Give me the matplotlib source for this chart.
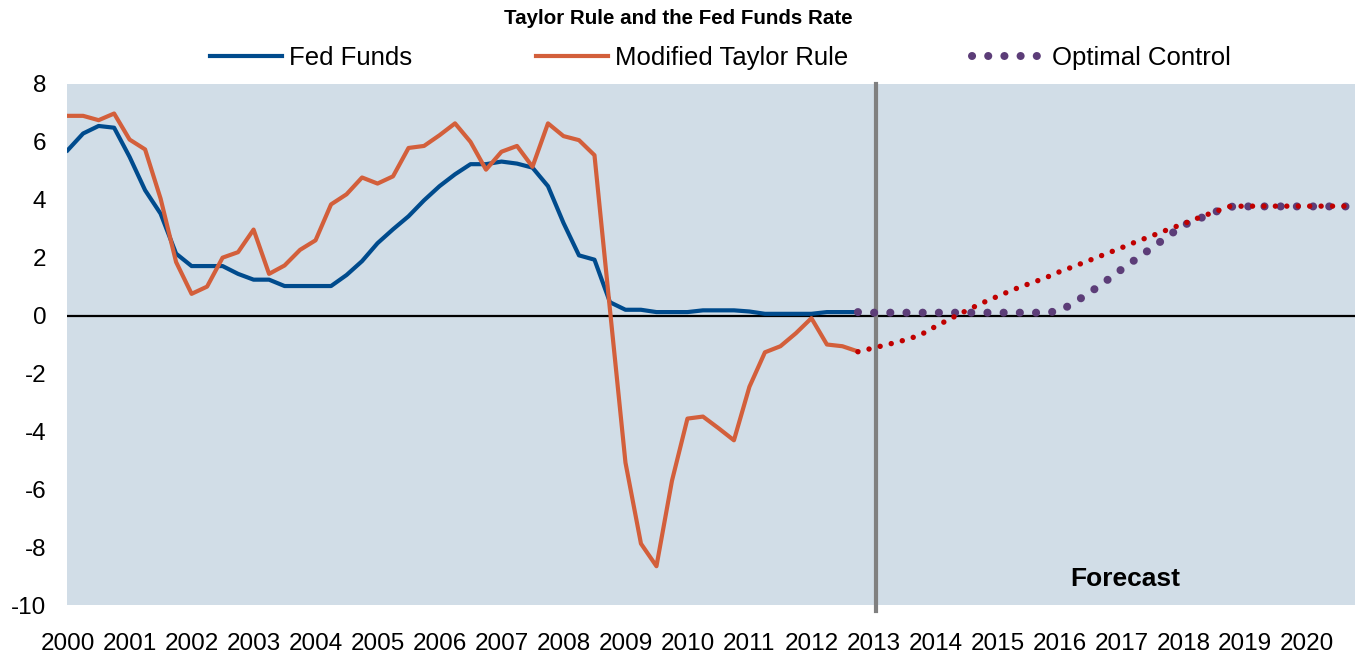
import numpy as np
import matplotlib.pyplot as plt

# Quarterly data, 2000Q1 onwards
fed_funds = [5.71, 6.29, 6.55, 6.49, 5.48, 4.33, 3.52, 2.14, 1.71, 1.71, 1.71, 1.44,
             1.24, 1.24, 1.02, 1.02, 1.02, 1.02, 1.40, 1.88, 2.50, 2.98, 3.43, 3.98,
             4.47, 4.88, 5.23, 5.23, 5.32, 5.25, 5.11, 4.47, 3.20, 2.08, 1.93, 0.46,
             0.20, 0.20, 0.12, 0.12, 0.12, 0.18, 0.18, 0.18, 0.14, 0.06, 0.06, 0.06,
             0.06, 0.12, 0.12, 0.12]
taylor_rule = [6.90, 6.90, 6.75, 6.98, 6.08, 5.74, 4.04, 1.85, 0.75, 1.00, 2.00, 2.19,
               2.97, 1.44, 1.73, 2.27, 2.60, 3.84, 4.19, 4.77, 4.56, 4.81, 5.79, 5.86,
               6.23, 6.64, 6.00, 5.04, 5.66, 5.86, 5.14, 6.64, 6.20, 6.06, 5.54, 0.20,
               -5.08, -7.88, -8.66, -5.71, -3.56, -3.49, -3.89, -4.31, -2.46, -1.27, -1.06, -0.61,
               -0.09, -1.00, -1.06, -1.24]
# Forecasts start at 2012Q4
taylor_forecast = [-1.25, -1.12, -0.99, -0.85, -0.68, -0.38, -0.10, 0.17, 0.43, 0.66, 0.89,
                   1.09, 1.28, 1.51, 1.71, 1.92, 2.13, 2.34, 2.56, 2.76, 2.97, 3.17, 3.38,
                   3.58, 3.77, 3.78, 3.78, 3.78, 3.78, 3.78, 3.78, 3.78, 3.78]
optimal_control = [0.12, 0.10, 0.10, 0.10, 0.10, 0.10, 0.10, 0.10, 0.10, 0.10, 0.10,
                   0.10, 0.10, 0.15, 0.46, 0.81, 1.19, 1.59, 1.97, 2.35, 2.74, 3.12, 3.34,
                   3.57, 3.76, 3.77, 3.77, 3.77, 3.77, 3.77, 3.77, 3.77, 3.77]
years = list(range(2000, 2021))
y_ticks = list(range(-10, 9, 2))
forecast_line = 2013.05

t_hist = 2000 + np.arange(len(fed_funds)) / 4
t_fc = 2000 + (len(fed_funds) - 1 + np.arange(len(optimal_control))) / 4

plt.rcParams['font.family'] = ['Liberation Sans', 'DejaVu Sans']
plt.rcParams['axes.unicode_minus'] = False

fig = plt.figure(figsize=(13.57, 6.58), dpi=100)
ax = fig.add_axes([67 / 1357, 53 / 658, 1288 / 1357, 521 / 658])
ax.set_facecolor('#d1dde7')

ax.axhline(0, color='black', lw=1.6, zorder=2)
ax.axvline(forecast_line, color='#808080', lw=3, zorder=2, ymin=-0.012, clip_on=False)

ax.plot(t_hist, fed_funds, color='#004b8d', lw=3, label='Fed Funds', zorder=3)
ax.plot(t_hist, taylor_rule, color='#d35f3b', lw=3, label='Modified Taylor Rule', zorder=3)
ax.plot(t_fc, taylor_forecast, color='#c00000', lw=3.9, linestyle=(0, (0.01, 2.1)),
        dash_capstyle='round', zorder=4)
ax.plot(t_fc, optimal_control, color='#5c3d78', lw=5.8, linestyle=(0, (0.01, 2.0)),
        dash_capstyle='round', label='Optimal Control', zorder=3)

ax.set_xlim(1999.99, 2020.77)
ax.set_ylim(-10, 8)
ax.set_xticks(years)
ax.set_xticklabels([str(y) for y in years])
ax.set_yticks(y_ticks)
ax.tick_params(axis='both', length=0, labelsize=17.5)
ax.tick_params(axis='x', pad=20)
ax.tick_params(axis='y', pad=15)
for s in ax.spines.values():
    s.set_visible(False)

ax.text(2017.07, -9.1, 'Forecast', fontsize=19, fontweight='bold',
        ha='center', va='center')

fig.text(0.5, 1 - 19 / 658, 'Taylor Rule and the Fed Funds Rate', fontsize=14.8,
         fontweight='bold', ha='center', va='center')

fig.legend(loc='center', bbox_to_anchor=(720 / 1357, 1 - 58 / 658), ncol=3, frameon=False,
           prop={'size': 18.5}, handlelength=2.8, handletextpad=0.3,
           columnspacing=4.8)

fig.savefig('out.png', dpi=100)
